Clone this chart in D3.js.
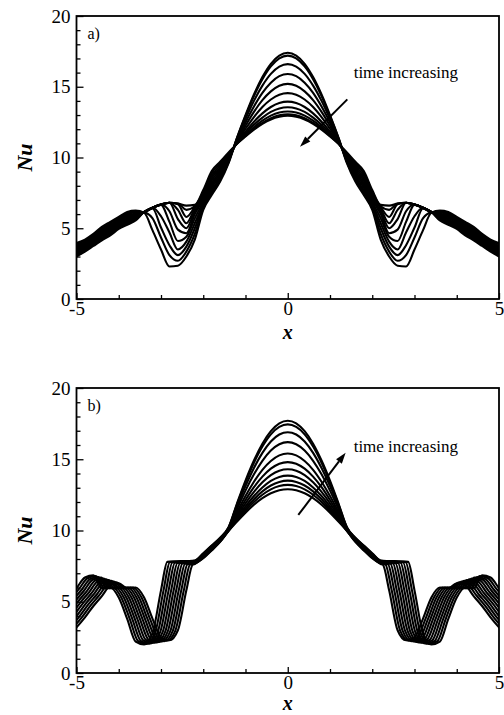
<!DOCTYPE html>
<html>
<head>
<meta charset="utf-8">
<script src="https://cdn.jsdelivr.net/npm/d3@7"></script>
<style>
  body{margin:0;background:#fff;}
  svg text{font-family:"Liberation Serif","Times New Roman",Times,serif;fill:#000;}
</style>
</head>
<body>
<div id="chart"></div>
<script>
// Nu(x) curves, symmetric about x = 0: values read for x >= 0 only
// panel a) — shared x grid
const xA=[0,0.2,0.4,0.6,0.8,1.0,1.2,1.4,1.6,1.8,2.0,2.2,2.4,2.6,2.8,3.0,3.2,3.4,3.6,3.8,4.0,4.2,4.4,4.6,4.8,5.0];
const nuA=[
  [17.4,17.2,16.62,15.68,14.45,12.99,11.4,9.6,8.3,7.35,6.3,4.2,3.0,2.35,2.3,3.5,4.85,6.1,6.25,6.15,5.8,5.45,5.1,4.6,4.2,3.95],
  [17.2,17.01,16.44,15.53,14.34,12.92,11.38,9.68,8.44,7.52,6.45,4.6,3.35,2.7,3.1,4.35,5.7,6.12,6.18,6.06,5.72,5.36,5.0,4.52,4.12,3.86],
  [16.6,16.42,15.91,15.08,14.0,12.72,11.32,9.75,8.58,7.69,6.6,5.0,3.7,3.1,3.8,5.05,6.4,6.12,6.11,5.97,5.63,5.26,4.91,4.43,4.03,3.76],
  [15.9,15.75,15.29,14.57,13.61,12.49,11.25,9.83,8.72,7.86,6.7,5.35,4.05,3.5,4.7,5.85,6.45,6.13,6.04,5.88,5.55,5.17,4.82,4.35,3.95,3.67],
  [15.2,15.07,14.67,14.05,13.22,12.25,11.19,9.9,8.86,8.03,6.85,5.7,4.4,4.1,5.45,6.65,6.45,6.14,5.97,5.79,5.46,5.07,4.72,4.26,3.86,3.57],
  [14.55,14.44,14.1,13.57,12.86,12.03,11.12,9.98,9.0,8.2,7.0,6.0,4.65,4.9,6.2,6.68,6.45,6.15,5.9,5.7,5.38,4.98,4.63,4.18,3.78,3.48],
  [13.95,13.85,13.57,13.12,12.53,11.83,11.06,10.05,9.14,8.37,7.1,6.2,5.0,5.65,6.8,6.68,6.45,6.15,5.83,5.61,5.29,4.88,4.53,4.09,3.69,3.38],
  [13.55,13.47,13.22,12.82,12.31,11.69,11.02,10.13,9.28,8.54,7.25,6.4,5.35,6.3,6.8,6.68,6.45,6.15,5.76,5.52,5.21,4.79,4.44,4.01,3.61,3.29],
  [13.25,13.18,12.96,12.6,12.14,11.59,11.0,10.2,9.42,8.71,7.4,6.5,5.8,6.7,6.8,6.68,6.45,6.15,5.69,5.43,5.12,4.69,4.34,3.92,3.52,3.19],
  [13.05,12.98,12.78,12.45,12.03,11.53,10.98,10.28,9.56,8.88,7.55,6.55,6.3,6.75,6.8,6.68,6.45,6.15,5.62,5.34,5.04,4.6,4.25,3.84,3.44,3.1],
  [12.95,12.88,12.69,12.38,11.97,11.49,10.97,10.35,9.7,9.05,7.7,6.65,6.6,6.75,6.8,6.68,6.45,6.15,5.55,5.25,4.95,4.5,4.15,3.75,3.35,3.0]
];

// panel b) — central part on a shared grid, outer part per curve
const coreXB=[0,0.2,0.4,0.6,0.8,1.0,1.2,1.4,1.6,1.8,2.0,2.2];
const coreB=[
  [12.9,12.83,12.61,12.27,11.81,11.25,10.63,9.97,9.2,8.6,8.05,7.65],
  [13.2,13.12,12.89,12.51,12.0,11.39,10.71,9.98,9.23,8.64,8.09,7.68],
  [13.5,13.41,13.16,12.75,12.19,11.53,10.79,10.0,9.26,8.67,8.12,7.7],
  [13.85,13.76,13.48,13.02,12.42,11.7,10.88,10.02,9.29,8.71,8.16,7.73],
  [14.3,14.2,13.89,13.38,12.71,11.91,11.0,10.04,9.32,8.74,8.19,7.75],
  [14.8,14.69,14.34,13.78,13.04,12.14,11.14,10.07,9.35,8.78,8.23,7.78],
  [15.4,15.27,14.88,14.26,13.42,12.42,11.3,10.1,9.38,8.81,8.26,7.8],
  [16.2,16.05,15.61,14.89,13.94,12.8,11.51,10.15,9.41,8.85,8.3,7.83],
  [16.9,16.74,16.25,15.45,14.39,13.12,11.7,10.18,9.44,8.88,8.33,7.85],
  [17.45,17.27,16.75,15.89,14.75,13.38,11.84,10.21,9.47,8.92,8.37,7.88],
  [17.7,17.52,16.97,16.09,14.91,13.5,11.91,10.23,9.5,8.95,8.4,7.9]
];
const tailXB=[
  [2.25,2.4,2.6,2.8,3.0,3.2,3.4,3.6,3.8,4.0,4.2,4.4,4.6,4.8,5.0,5.2],
  [2.31,2.46,2.66,2.86,3.06,3.26,3.46,3.66,3.86,4.06,4.26,4.46,4.66,4.86,5.06,5.26],
  [2.37,2.52,2.72,2.92,3.12,3.32,3.52,3.72,3.92,4.12,4.32,4.52,4.72,4.92,5.12],
  [2.43,2.58,2.78,2.98,3.18,3.38,3.58,3.78,3.98,4.18,4.38,4.58,4.78,4.98,5.18],
  [2.49,2.64,2.84,3.04,3.24,3.44,3.64,3.84,4.04,4.24,4.44,4.64,4.84,5.04],
  [2.55,2.7,2.9,3.1,3.3,3.5,3.7,3.9,4.1,4.3,4.5,4.7,4.9,5.1],
  [2.61,2.76,2.96,3.16,3.36,3.56,3.76,3.96,4.16,4.36,4.56,4.76,4.96,5.16],
  [2.67,2.82,3.02,3.22,3.42,3.62,3.82,4.02,4.22,4.42,4.62,4.82,5.02],
  [2.73,2.88,3.08,3.28,3.48,3.68,3.88,4.08,4.28,4.48,4.68,4.88,5.08],
  [2.79,2.94,3.14,3.34,3.54,3.74,3.94,4.14,4.34,4.54,4.74,4.94,5.14],
  [2.85,3.0,3.2,3.4,3.6,3.8,4.0,4.2,4.4,4.6,4.8,5.0,5.2]
];
const tailNuB=[
  [7.6,5.8,3.0,2.3,2.5,3.8,5.3,6.0,5.95,6.3,6.15,5.4,4.7,3.9,3.2,2.6],
  [7.62,5.8,2.98,2.27,2.47,3.8,5.3,6.0,5.95,6.36,6.21,5.46,4.76,3.96,3.26,2.66],
  [7.64,5.8,2.96,2.24,2.44,3.8,5.3,6.0,5.95,6.41,6.26,5.51,4.81,4.01,3.31],
  [7.66,5.8,2.94,2.21,2.41,3.8,5.3,6.0,5.95,6.47,6.32,5.57,4.87,4.07,3.37],
  [7.68,5.8,2.92,2.18,2.38,3.8,5.3,6.0,5.95,6.52,6.37,5.62,4.92,4.12],
  [7.7,5.8,2.9,2.15,2.35,3.8,5.3,6.0,5.95,6.58,6.43,5.68,4.98,4.18],
  [7.72,5.8,2.88,2.12,2.32,3.8,5.3,6.0,5.95,6.63,6.48,5.73,5.03,4.23],
  [7.74,5.8,2.86,2.09,2.29,3.8,5.3,6.0,5.95,6.69,6.54,5.79,5.09],
  [7.76,5.8,2.84,2.06,2.26,3.8,5.3,6.0,5.95,6.74,6.59,5.84,5.14],
  [7.78,5.8,2.82,2.03,2.23,3.8,5.3,6.0,5.95,6.8,6.65,5.9,5.2],
  [7.8,5.8,2.8,2.0,2.2,3.8,5.3,6.0,5.95,6.85,6.7,5.95,5.25]
];

const xMajor=[-5,0,5];
const xMinor=[-4,-3,-2,-1,1,2,3,4];
const yMajor=[0,5,10,15,20];
const yMinor=[1,2,3,4,6,7,8,9,11,12,13,14,16,17,18,19];
const noteText='time increasing';

// ---- layout ----
const W=504,H=715;
const L=76.5,R=499;
const FONT='"Liberation Serif","Times New Roman",Times,serif';
const panels=[
  {top:16,bottom:299,titleGap:40,tag:'a)',note:[1.56,15.62],arrow:[[1.41,14.11],[0.29,10.76]]},
  {top:388,bottom:673,titleGap:37,tag:'b)',note:[1.56,15.51],arrow:[[0.25,11.09],[1.37,15.46]]}
];

const zip=(xs,vs)=>vs.map((v,i)=>[xs[i],v]);
const mirror=pts=>pts.filter(p=>p[0]>0).map(p=>[-p[0],p[1]]).reverse().concat(pts);

const curvesA=nuA.map(row=>zip(xA,row));
const curvesB=coreB.map((row,k)=>zip(coreXB,row).concat(zip(tailXB[k],tailNuB[k])));

const svg=d3.select('#chart').append('svg').attr('width',W).attr('height',H)
  .attr('font-family',FONT);
const x=d3.scaleLinear().domain([-5,5]).range([L,R]);
const fmt=d=>d<0?'-'+(-d):String(d);

function drawPanel(p,curves,i){
  const y=d3.scaleLinear().domain([0,20]).range([p.bottom,p.top]);
  const g=svg.append('g');
  const cid='clip'+i;
  svg.append('clipPath').attr('id',cid).append('rect')
    .attr('x',L).attr('y',p.top).attr('width',R-L).attr('height',p.bottom-p.top);

  const line=d3.line().x(d=>x(d[0])).y(d=>y(d[1])).curve(d3.curveMonotoneX);
  g.append('g').attr('clip-path',`url(#${cid})`)
    .selectAll('path').data(curves.map(mirror)).join('path')
    .attr('d',line).attr('fill','none').attr('stroke','#000').attr('stroke-width',2.1)
    .attr('stroke-linejoin','round');

  const axisStyle=s=>{
    s.select('.domain').remove();
    s.attr('font-family',FONT).attr('font-size',19);
    s.selectAll('line').attr('stroke','#000').attr('stroke-width',1.3);
  };
  // x axis: ticks point into the plot
  g.append('g').attr('transform',`translate(0,${p.bottom})`)
    .call(d3.axisBottom(x).tickValues(xMinor).tickSize(-4).tickFormat('')).call(axisStyle);
  g.append('g').attr('transform',`translate(0,${p.bottom})`)
    .call(d3.axisBottom(x).tickValues(xMajor).tickSize(-6).tickPadding(2).tickFormat(fmt)).call(axisStyle);
  // y axis
  g.append('g').attr('transform',`translate(${L},0)`)
    .call(d3.axisLeft(y).tickValues(yMinor).tickSize(-4).tickFormat('')).call(axisStyle);
  g.append('g').attr('transform',`translate(${L},0)`)
    .call(d3.axisLeft(y).tickValues(yMajor).tickSize(-7).tickPadding(6).tickFormat(fmt)).call(axisStyle);

  // frame
  g.append('rect').attr('x',L).attr('y',p.top).attr('width',R-L).attr('height',p.bottom-p.top)
    .attr('fill','none').attr('stroke','#000').attr('stroke-width',1.8);

  // titles
  g.append('text').attr('x',x(0)).attr('y',p.bottom+p.titleGap).attr('text-anchor','middle')
    .attr('font-size',20).attr('font-weight','bold').attr('font-style','italic').text('x');
  g.append('text').attr('transform',`translate(32,${(p.top+p.bottom)/2}) rotate(-90)`)
    .attr('text-anchor','middle').attr('font-size',22).attr('font-weight','bold').attr('font-style','italic').text('Nu');

  // panel tag
  g.append('text').attr('x',x(-4.74)).attr('y',y(18.4)).attr('font-size',16).text(p.tag);

  // annotation
  g.append('text').attr('x',x(p.note[0])).attr('y',y(p.note[1])).attr('font-size',17).text(noteText);
  const [a0,a1]=p.arrow;
  const x0=x(a0[0]),y0=y(a0[1]),x1=x(a1[0]),y1=y(a1[1]);
  const ang=Math.atan2(y1-y0,x1-x0),hl=11,hw=3.6;
  const bx=x1-hl*Math.cos(ang),by=y1-hl*Math.sin(ang);
  g.append('line').attr('x1',x0).attr('y1',y0).attr('x2',bx).attr('y2',by)
    .attr('stroke','#000').attr('stroke-width',2);
  g.append('path')
    .attr('d',`M${x1},${y1}L${bx+hw*Math.sin(ang)},${by-hw*Math.cos(ang)}L${bx-hw*Math.sin(ang)},${by+hw*Math.cos(ang)}Z`)
    .attr('fill','#000');
}

drawPanel(panels[0],curvesA,0);
drawPanel(panels[1],curvesB,1);
</script>
</body>
</html>
